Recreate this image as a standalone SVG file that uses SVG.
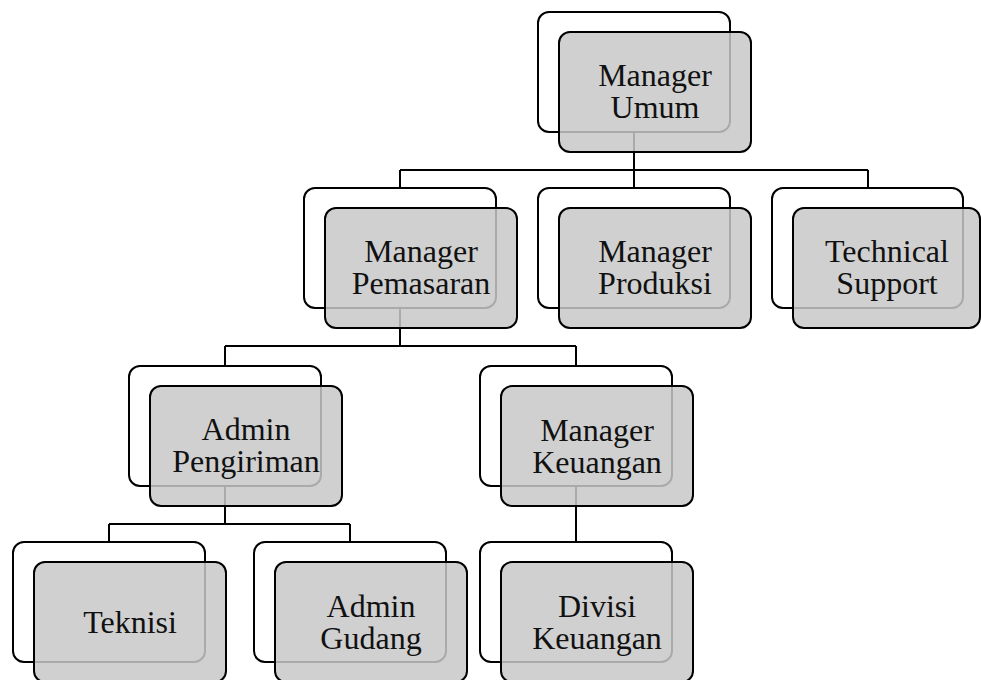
<svg xmlns="http://www.w3.org/2000/svg" width="981" height="680" viewBox="0 0 981 680">
<style>
.back{fill:#ffffff;stroke:#000;stroke-width:2}
.front{fill:#c8c8c8;fill-opacity:0.85;stroke:#000;stroke-width:2}
.lbl{font-family:"Liberation Serif","Times New Roman",serif;font-size:32px;fill:#111;text-anchor:middle}
.conn{fill:none;stroke:#000;stroke-width:2}
</style>
<rect width="981" height="680" fill="#ffffff"/>
<g id="connectors" class="conn">
<path d="M634,132 V170 M400,170 H868 M400,170 V188 M634,170 V188 M868,170 V188"/>
<path d="M400,308 V346 M225,346 H576 M225,346 V366 M576,346 V366"/>
<path d="M225,486 V524 M109,524 H350 M109,524 V542 M350,524 V542"/>
<path d="M576,486 V542"/>
</g>
<g id="manager-umum">
<rect class="back" x="538" y="12" width="192" height="120" rx="11"/>
<rect class="front" x="559" y="32" width="192" height="120" rx="11"/>
<text class="lbl" x="655" y="86">Manager</text>
<text class="lbl" x="655" y="118">Umum</text>
</g>
<g id="manager-pemasaran">
<rect class="back" x="304" y="188" width="192" height="120" rx="11"/>
<rect class="front" x="325" y="208" width="192" height="120" rx="11"/>
<text class="lbl" x="421" y="262">Manager</text>
<text class="lbl" x="421" y="294">Pemasaran</text>
</g>
<g id="manager-produksi">
<rect class="back" x="538" y="188" width="192" height="120" rx="11"/>
<rect class="front" x="559" y="208" width="192" height="120" rx="11"/>
<text class="lbl" x="655" y="262">Manager</text>
<text class="lbl" x="655" y="294">Produksi</text>
</g>
<g id="technical-support">
<rect class="back" x="772" y="188" width="191" height="120" rx="11"/>
<rect class="front" x="793" y="208" width="187" height="120" rx="11"/>
<text class="lbl" x="887" y="262">Technical</text>
<text class="lbl" x="887" y="294">Support</text>
</g>
<g id="admin-pengiriman">
<rect class="back" x="129" y="366" width="192" height="120" rx="11"/>
<rect class="front" x="150" y="386" width="192" height="120" rx="11"/>
<text class="lbl" x="246" y="440">Admin</text>
<text class="lbl" x="246" y="472">Pengiriman</text>
</g>
<g id="manager-keuangan">
<rect class="back" x="480" y="366" width="192" height="120" rx="11"/>
<rect class="front" x="501" y="386" width="192" height="120" rx="11"/>
<text class="lbl" x="597" y="441">Manager</text>
<text class="lbl" x="597" y="473">Keuangan</text>
</g>
<g id="teknisi">
<rect class="back" x="13" y="542" width="192" height="120" rx="11"/>
<rect class="front" x="34" y="562" width="192" height="120" rx="11"/>
<text class="lbl" x="130" y="633">Teknisi</text>
</g>
<g id="admin-gudang">
<rect class="back" x="254" y="542" width="192" height="120" rx="11"/>
<rect class="front" x="275" y="562" width="192" height="120" rx="11"/>
<text class="lbl" x="371" y="617">Admin</text>
<text class="lbl" x="371" y="649">Gudang</text>
</g>
<g id="divisi-keuangan">
<rect class="back" x="480" y="542" width="192" height="120" rx="11"/>
<rect class="front" x="501" y="562" width="192" height="120" rx="11"/>
<text class="lbl" x="597" y="617">Divisi</text>
<text class="lbl" x="597" y="649">Keuangan</text>
</g>
</svg>
